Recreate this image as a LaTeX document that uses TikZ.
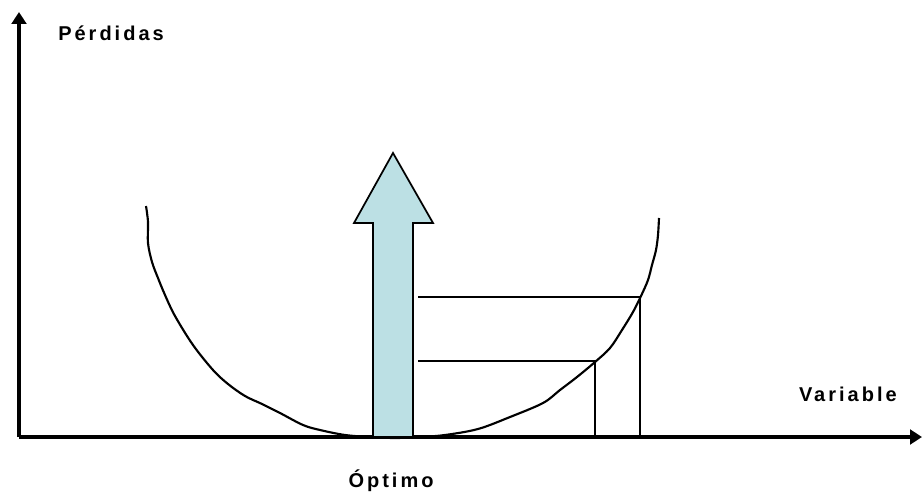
\documentclass[tikz,border=0pt]{standalone}
\usepackage{fontspec}
\setmainfont{Liberation Sans}
\usepackage{xcolor}
\usepackage{tikz}
\usetikzlibrary{arrows.meta}

\definecolor{optfill}{RGB}{188,224,228}
\newfontfamily\labelfont[LetterSpace=15]{Liberation Sans Bold}

\begin{document}
\begin{tikzpicture}[
  x=0.75pt, y=-0.75pt,
  axis/.style={line width=2.4pt, -{Triangle[length=9pt, width=11pt]}},
  curve/.style={line width=1.6pt, line join=round},
  guide/.style={line width=1.3pt},
  bigarrow/.style={draw=black, line width=1.3pt, fill=optfill, line join=miter},
  lbl/.style={font=\labelfont\fontsize{15}{17}\selectfont, inner sep=0pt}
]
\useasboundingbox (0,0) rectangle (923,502);
% axes
\coordinate (O) at (19,437);
\coordinate (ytop) at (19,12);
\coordinate (xend) at (922,437);
\draw[axis] (O) -- (ytop);
\draw[axis] (O) -- (xend);
% loss curve
\draw[curve] plot[smooth, tension=0.55] coordinates {
  (146,206) (148,222) (148,243) (152,262) (158,278) (165,295) (175,316)
  (193,345) (213,370) (228,384) (245,396) (262,404) (280,413) (303,425)
  (320,430) (345,435) (370,437) (395,438) (420,437) (445,435) (478,429)
  (510,417) (543,403) (560,390) (577,377) (595,362) (610,348) (622,330)
  (633,312) (641,296) (648,280) (652,265) (656,250) (658,235) (659,218)};
% optimum arrow
\draw[bigarrow] (373,437) -- (373,223) -- (354,223) -- (393,153)
  -- (433,223) -- (413,223) -- (413,437) -- cycle;
% guide lines
\coordinate (p1) at (640,297);
\coordinate (p2) at (595,361);
\draw[guide] (418,297) -- (p1) -- (640,437);
\draw[guide] (418,361) -- (p2) -- (595,437);
% labels
\node[lbl, anchor=base west] (perdidas) at (58,41) {Pérdidas};
\node[lbl, anchor=base east] (variable) at (897,401) {Variable};
\node[lbl, anchor=base] (optimo) at (391,487) {Óptimo};
\end{tikzpicture}
\end{document}
